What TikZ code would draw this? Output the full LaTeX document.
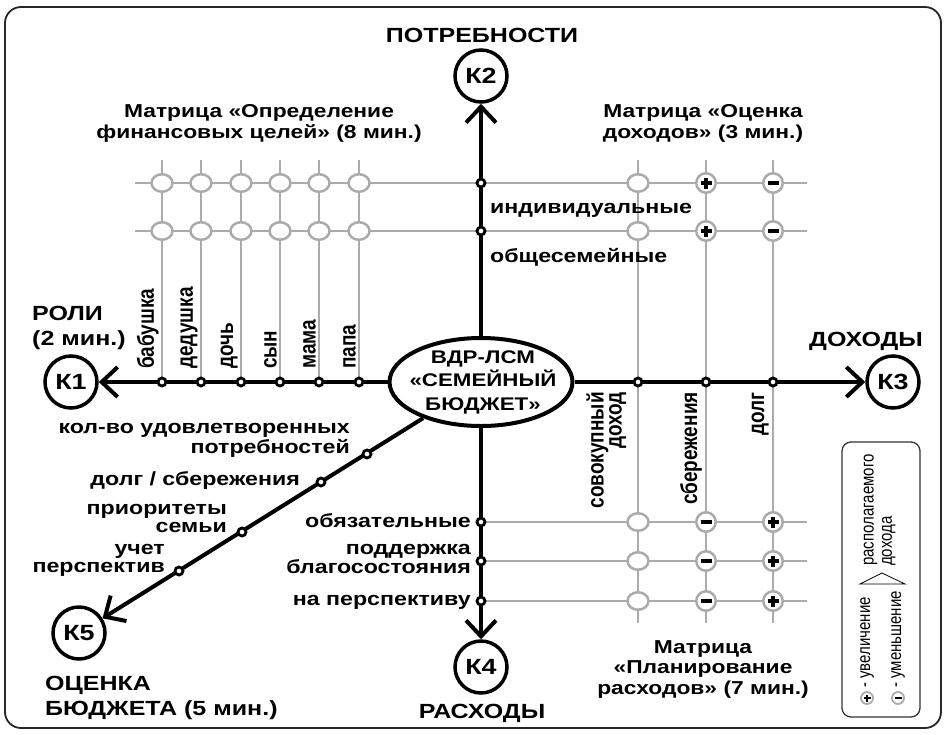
\documentclass[tikz,border=0pt]{standalone}
\usepackage{fontspec}
\usepackage{graphicx}
\setmainfont{Liberation Sans}[FakeStretch=1.22]
\newfontfamily\plainsans{Liberation Sans}
\usetikzlibrary{arrows.meta,shapes.geometric}
\definecolor{gry}{HTML}{ABABAB}
\newcommand{\fLbl}{\fontsize{19}{17.5}\selectfont\bfseries}
\newcommand{\fTtl}{\fontsize{18.7}{20.5}\selectfont\bfseries}
\newcommand{\fHdr}{\fontsize{20.5}{25}\selectfont\bfseries}
\newcommand{\fKlab}{\fontsize{22}{22}\selectfont\bfseries}
\newcommand{\fEll}{\fontsize{18.3}{23.5}\selectfont\bfseries}
\newcommand{\rotTxt}[1]{\scalebox{1}[1.22]{\plainsans\bfseries\fontsize{19}{14.5}\selectfont #1}}
\newcommand{\legTxt}[1]{\scalebox{1}[1.22]{\plainsans\fontsize{15}{15}\selectfont #1}}
\begin{document}
\begin{tikzpicture}[x=1pt,y=-1pt,
  axis/.style={line width=4pt},
  arr/.style={-{Straight Barb[length=16pt,width=30pt]}},
  kc/.style={circle,draw,line width=3.5pt,minimum size=52pt,inner sep=0pt,font=\fKlab},
  dot/.style={circle,draw,line width=2.8pt,fill=white,minimum size=8pt,inner sep=0pt},
  gline/.style={draw=gry,line width=2.5pt},
  gopen/.style={ellipse,draw=gry,line width=2.5pt,fill=white,minimum width=21pt,minimum height=17.5pt,inner sep=0pt},
  pmc/.style={circle,draw=gry,line width=2.5pt,fill=white,minimum size=19.5pt,inner sep=0pt},
  pmplus/.style={pmc,path picture={\draw[line width=3.2pt,black]
      ([xshift=-5.5pt]path picture bounding box.center)--([xshift=5.5pt]path picture bounding box.center)
      ([yshift=-5.5pt]path picture bounding box.center)--([yshift=5.5pt]path picture bounding box.center);}},
  pmminus/.style={pmc,path picture={\draw[line width=3.2pt,black]
      ([xshift=-5.5pt]path picture bounding box.center)--([xshift=5.5pt]path picture bounding box.center);}},
  lplus/.style={circle,draw=gry,line width=1.8pt,fill=white,minimum size=12pt,inner sep=0pt,path picture={\draw[line width=2.4pt,black]
      ([xshift=-3.5pt]path picture bounding box.center)--([xshift=3.5pt]path picture bounding box.center)
      ([yshift=-3.5pt]path picture bounding box.center)--([yshift=3.5pt]path picture bounding box.center);}},
  lminus/.style={circle,draw=gry,line width=1.8pt,fill=white,minimum size=12pt,inner sep=0pt,path picture={\draw[line width=2.4pt,black]
      ([xshift=-3.5pt]path picture bounding box.center)--([xshift=3.5pt]path picture bounding box.center);}},
  rotl/.style={rotate=90,inner sep=0pt},
]
\useasboundingbox (0,0) rectangle (947,734);
\draw[line width=1.8pt,draw=black!85,rounded corners=16pt] (5,7) rectangle (941,728);

% grey grid
\foreach \x in {162,201,241,280,319,359} \draw[gline] (\x,160) -- (\x,382);
\foreach \x in {638,706,773} \draw[gline] (\x,160) -- (\x,623);
\foreach \y in {183,231} \draw[gline] (135,\y) -- (807,\y);
\foreach \y in {522,561,601} \draw[gline] (481,\y) -- (807,\y);

% grid markers
\foreach \x [count=\i] in {162,201,241,280,319,359} {
  \node[gopen] (gA\i) at (\x,183) {};
  \node[gopen] (gB\i) at (\x,231) {};
}
\node[gopen] (rA) at (638,183) {};
\node[gopen] (rB) at (638,231) {};
\node[pmplus] (rAp) at (706,183) {};
\node[pmplus] (rBp) at (706,231) {};
\node[pmminus] (rAm) at (773,183) {};
\node[pmminus] (rBm) at (773,231) {};
\foreach \y [count=\i] in {522,561,601} {
  \node[gopen] (bO\i) at (638,\y) {};
  \node[pmminus] (bM\i) at (706,\y) {};
  \node[pmplus] (bP\i) at (773,\y) {};
}

% central ellipse and K nodes
\node[draw,ellipse,line width=4pt,minimum width=183pt,minimum height=88pt,inner sep=0pt] (ell) at (481,382) {};
\node[font=\fEll,align=center,inner sep=0pt] (ellT) at (483,382) {ВДР-ЛСМ\\«СЕМЕЙНЫЙ\\БЮДЖЕТ»};
\node[kc] (K1) at (71,382) {К1};
\node[kc] (K2) at (481,76) {К2};
\node[kc] (K3) at (893,382) {К3};
\node[kc] (K4) at (481,667) {К4};
\node[kc] (K5) at (79,633) {К5};

% axes
\draw[axis,arr] (ell) -- (K1);
\draw[axis,arr] (ell) -- (K2);
\draw[axis,arr] (ell) -- (K3);
\draw[axis,arr] (ell) -- (K4);
\draw[axis,arr] (ell) -- (K5);

% dots on axes
\foreach \x [count=\i] in {162,201,241,280,319,359} \node[dot] (dL\i) at (\x,382) {};
\foreach \x [count=\i] in {638,706,773} \node[dot] (dR\i) at (\x,382) {};
\node[dot] (dT1) at (481,183) {};
\node[dot] (dT2) at (481,231) {};
\foreach \y [count=\i] in {522,561,601} \node[dot] (dB\i) at (481,\y) {};
\node[dot] (dD1) at (367,454) {};
\node[dot] (dD2) at (321,482) {};
\node[dot] (dD3) at (242,532) {};
\node[dot] (dD4) at (179,571) {};

% headings (base anchor = baseline of last line)
\node[font=\fHdr,anchor=base,inner sep=0pt] (hPot) at (482,42) {ПОТРЕБНОСТИ};
\node[font=\fHdr,anchor=base west,align=left,inner sep=0pt] (hRol) at (32,345) {РОЛИ\\(2 мин.)};
\node[font=\fHdr,anchor=base west,inner sep=0pt] (hDoh) at (809,346) {ДОХОДЫ};
\node[font=\fHdr,anchor=base west,align=left,inner sep=0pt] (hOc) at (45,715) {ОЦЕНКА\\БЮДЖЕТА (5 мин.)};
\node[font=\fHdr,anchor=base,inner sep=0pt] (hRas) at (482,718) {РАСХОДЫ};

% matrix titles
\node[font=\fTtl,anchor=base,align=center,inner sep=0pt] (m1) at (259,138) {Матрица «Определение\\финансовых целей» (8 мин.)};
\node[font=\fTtl,anchor=base,align=center,inner sep=0pt] (m2) at (703,138) {Матрица «Оценка\\доходов» (3 мин.)};
\node[font=\fTtl,anchor=base,align=center,inner sep=0pt] (m3) at (703,694) {Матрица\\«Планирование\\расходов» (7 мин.)};

% axis labels
\node[font=\fLbl,anchor=base west,inner sep=0pt] (lT1) at (490,213) {индивидуальные};
\node[font=\fLbl,anchor=base west,inner sep=0pt] (lT2) at (490,262) {общесемейные};
\node[font=\fLbl,anchor=base east,inner sep=0pt] (lB1) at (471,527) {обязательные};
\node[font=\fLbl,anchor=base east,align=right,inner sep=0pt] (lB2) at (471,573) {поддержка\\благосостояния};
\node[font=\fLbl,anchor=base east,inner sep=0pt] (lB3) at (471,605) {на перспективу};
\node[font=\fLbl,anchor=base east,align=right,inner sep=0pt] (lD1) at (350,453) {кол-во удовлетворенных\\потребностей};
\node[font=\fLbl,anchor=base east,inner sep=0pt] (lD2) at (300,485) {долг / сбережения};
\node[font=\fLbl,anchor=base east,align=right,inner sep=0pt] (lD3) at (227,532) {приоритеты\\семьи};
\node[font=\fLbl,anchor=base east,align=right,inner sep=0pt] (lD4) at (165,572) {учет\\перспектив};

% rotated role labels
\foreach \x/\t [count=\i] in {162/бабушка,201/дедушка,241/дочь,280/сын,319/мама,359/папа}
  \node[rotl,anchor=south west] (rl\i) at (\x-3,369) {\rotTxt{\t}};
% rotated income labels
\node[rotl,anchor=south east] (ri1) at (627,392) {\rotTxt{\begin{tabular}{@{}r@{}}совокупный\\доход\end{tabular}}};
\node[rotl,anchor=south east] (ri2) at (702,392) {\rotTxt{сбережения}};
\node[rotl,anchor=south east] (ri3) at (769,392) {\rotTxt{долг}};

% legend
\node[draw=black!80,line width=1.3pt,rounded corners=9pt,minimum width=78pt,minimum height=275pt,inner sep=0pt] (leg) at (881,579.5) {};
\node[lplus] (legP) at (867,698) {};
\node[lminus] (legM) at (898,698) {};
\node[rotl,anchor=west] (legT1) at (867,688) {\legTxt{- увеличение}};
\node[rotl,anchor=west] (legT2) at (898,688) {\legTxt{- уменьшение}};
\node[rotl,anchor=west] (legT3) at (879,566) {\legTxt{\begin{tabular}{@{}l@{}}располагаемого\\дохода\end{tabular}}};
\draw[line width=0.8pt] (860,584) -- (882,573) -- (905,584) -- cycle;
\end{tikzpicture}
\end{document}
